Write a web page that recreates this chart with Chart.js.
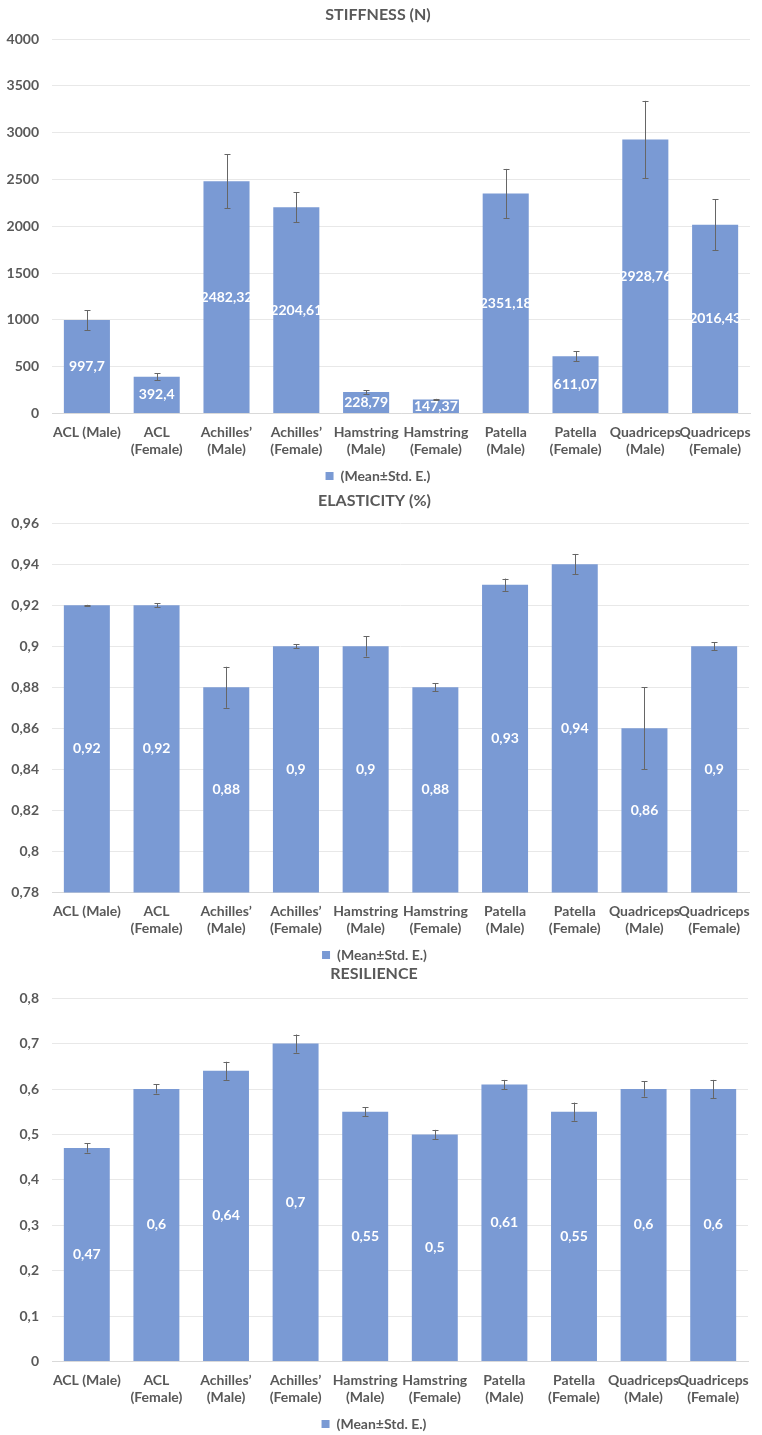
<!DOCTYPE html>
<html>
<head>
<meta charset="utf-8">
<title>Tendon mechanics</title>
<script src="https://cdn.jsdelivr.net/npm/chart.js@4.4.0/dist/chart.umd.min.js"></script>
<style>
    body { margin: 0; background: #fff; overflow: hidden; }
    .box { position: absolute; left: 0; width: 762px; }
</style>
</head>
<body>
<div class="box" style="top:0;height:493px"><canvas id="stiffness_chart"></canvas></div>
<div class="box" style="top:486px;height:486px"><canvas id="elasticity_chart"></canvas></div>
<div class="box" style="top:959px;height:476px"><canvas id="resilience_chart"></canvas></div>
<script>
// tendons, shared by the three charts
var categories = [
    ["ACL (Male)"], ["ACL", "(Female)"], ["Achilles’", "(Male)"], ["Achilles’", "(Female)"],
    ["Hamstring", "(Male)"], ["Hamstring", "(Female)"], ["Patella", "(Male)"], ["Patella", "(Female)"],
    ["Quadriceps", "(Male)"], ["Quadriceps", "(Female)"]
];
var seriesName = "(Mean±Std. E.)";

var stiffness = [997.7, 392.4, 2482.32, 2204.61, 228.79, 147.37, 2351.18, 611.07, 2928.76, 2016.43];
var stiffnessErr = [107, 36, 290, 160, 20, 8, 262, 52, 412, 272];
var stiffnessTicks = [0, 4000, 500];

var elasticity = [0.92, 0.92, 0.88, 0.9, 0.9, 0.88, 0.93, 0.94, 0.86, 0.9];
var elasticityErr = [0.0002, 0.001, 0.01, 0.001, 0.005, 0.002, 0.003, 0.005, 0.02, 0.002];
var elasticityTicks = [0.78, 0.96, 0.02];

var resilience = [0.47, 0.6, 0.64, 0.7, 0.55, 0.5, 0.61, 0.55, 0.6, 0.6];
var resilienceErr = [0.01, 0.01, 0.02, 0.02, 0.01, 0.01, 0.01, 0.02, 0.017, 0.02];
var resilienceTicks = [0, 0.8, 0.1];

var GREY = '#595959';
var FONT = 'Lato';

function comma(v) {
    return String(Number(v.toFixed(2))).replace('.', ',');
}

// whiskers + white value labels in the middle of each bar
var barExtras = {
    id: 'barExtras',
    afterDatasetsDraw: function (chart) {
        var ctx = chart.ctx;
        var y = chart.scales.y;
        var ds = chart.data.datasets[0];
        var bars = chart.getDatasetMeta(0).data;
        var area = chart.chartArea;
        ctx.save();
        bars.forEach(function (bar, i) {
            var v = ds.data[i], e = ds.errors[i];
            var top = y.getPixelForValue(v + e), bot = y.getPixelForValue(v - e);
            var x = Math.round(bar.x) + 0.5;
            ctx.strokeStyle = '#666666';
            ctx.lineWidth = 1;
            ctx.beginPath();
            ctx.moveTo(x, top);
            ctx.lineTo(x, bot);
            ctx.moveTo(x - 3, Math.round(top) + 0.5);
            ctx.lineTo(x + 3, Math.round(top) + 0.5);
            ctx.moveTo(x - 3, Math.round(bot) + 0.5);
            ctx.lineTo(x + 3, Math.round(bot) + 0.5);
            ctx.stroke();

            var mid = (bar.y + Math.min(bar.base, area.bottom)) / 2;
            ctx.fillStyle = '#ffffff';
            ctx.font = 'bold 14px ' + FONT;
            ctx.textAlign = 'center';
            ctx.textBaseline = 'middle';
            ctx.fillText(comma(v), bar.x, mid);
        });
        ctx.restore();
    }
};

function getChartJs(title, values, errors, ticks, padRight, padBottom, titleGap) {
    return {
        type: 'bar',
        data: {
            labels: categories,
            datasets: [{
                label: seriesName,
                data: values,
                errors: errors,
                backgroundColor: '#7a9ad4',
                barPercentage: 0.66,
                categoryPercentage: 1.0
            }]
        },
        options: {
            responsive: true,
            maintainAspectRatio: false,
            animation: false,
            layout: { padding: { left: 0, right: padRight, top: 0, bottom: padBottom } },
            plugins: {
                title: {
                    display: true,
                    text: title,
                    color: GREY,
                    font: { family: FONT, size: 16, weight: 'bold', lineHeight: 1.2 },
                    padding: { top: 5, bottom: titleGap }
                },
                legend: {
                    position: 'bottom',
                    labels: {
                        color: GREY,
                        boxWidth: 8,
                        boxHeight: 8,
                        padding: 0,
                        font: { family: FONT, size: 14, weight: 'bold' }
                    }
                },
                tooltip: { enabled: false }
            },
            scales: {
                x: {
                    grid: { display: false, drawTicks: false },
                    border: { display: true, color: '#d9d9d9' },
                    ticks: {
                        color: GREY,
                        padding: 11,
                        maxRotation: 0,
                        autoSkip: false,
                        font: { family: FONT, size: 14, weight: 'bold', lineHeight: 1.2 }
                    }
                },
                y: {
                    min: ticks[0],
                    max: ticks[1],
                    afterFit: function (scale) { scale.width = 52; },
                    grid: { color: '#e8e8e8', drawTicks: false },
                    border: { display: false },
                    ticks: {
                        stepSize: ticks[2],
                        color: GREY,
                        padding: 13,
                        font: { family: FONT, size: 14, weight: 'bold' },
                        callback: function (v) { return comma(v); }
                    }
                }
            }
        },
        plugins: [barExtras]
    };
}

new Chart(document.getElementById("stiffness_chart").getContext("2d"),
    getChartJs("STIFFNESS (N)", stiffness, stiffnessErr, stiffnessTicks, 6, 0, 15));
new Chart(document.getElementById("elasticity_chart").getContext("2d"),
    getChartJs("ELASTICITY (%)", elasticity, elasticityErr, elasticityTicks, 13, 0, 13));
new Chart(document.getElementById("resilience_chart").getContext("2d"),
    getChartJs("RESILIENCE", resilience, resilienceErr, resilienceTicks, 14, -6, 15));
</script>
</body>
</html>
